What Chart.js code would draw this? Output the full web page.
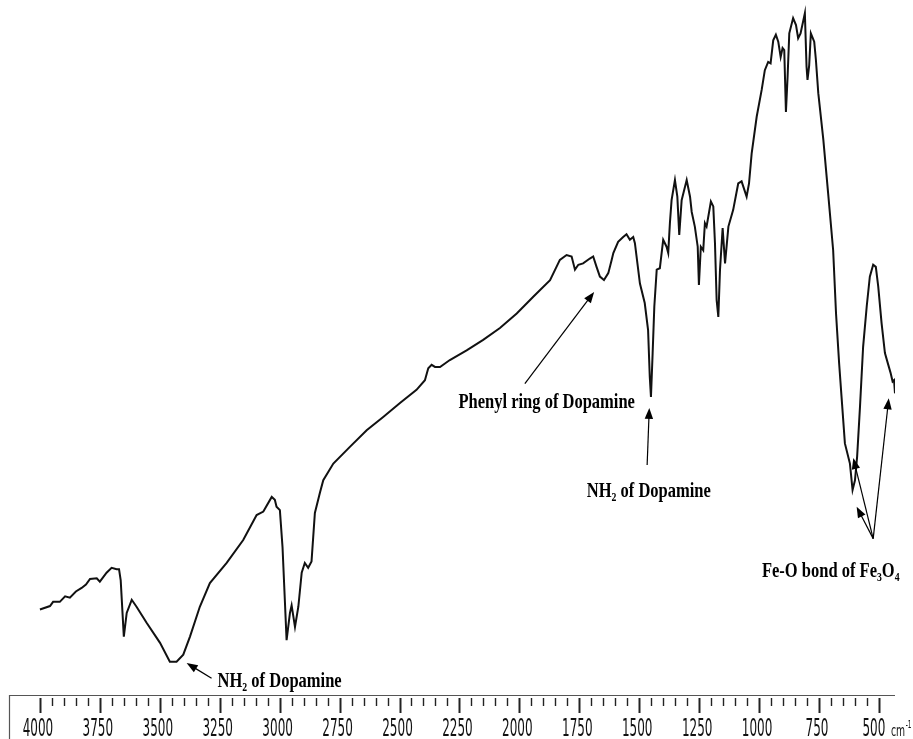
<!DOCTYPE html>
<html>
<head>
<meta charset="utf-8">
<script src="https://cdn.jsdelivr.net/npm/chart.js@4.4.1/dist/chart.umd.min.js"></script>
<style>
html,body{margin:0;padding:0;background:#fff;}
#c{display:block;}
</style>
</head>
<body>
<canvas id="c" width="913" height="739"></canvas>
<script>
// ---- Data (FT-IR spectrum, transmittance in arbitrary %) ----
const wavenumber = [
4000,3958,3945,3917,3895,3875,3850,3826,3808,3791,3763,3750,3722,3701,3680,3670,3663,3650,3638,3617,3597,3555,3499,3458,
3430,3402,3374,3333,3291,3221,3152,3096,3068,3033,3020,3013,2999,2988,2971,2957,2950,2936,2922,2908,
2895,2881,2867,2853,2832,2818,2776,2707,2637,2568,2498,2429,2394,2380,2366,2352,2331,2290,2220,2151,
2081,2011,1942,1872,1831,1803,1782,1768,1754,1734,1706,1692,1678,1664,1647,1629,1615,1608,1588,1567,
1553,1539,1525,1518,1497,1477,1463,1456,1451,1444,1437,1427,1414,1400,1386,1379,1372,1365,1351,1341,
1333,1323,1302,1288,1281,1268,1256,1251,1243,1233,1226,1219,1201,1191,1184,1177,1170,1163,1152,1142,
1128,1108,1087,1073,1052,1042,1031,1010,989,976,962,952,941,930,920,910,902,895,888,881,
874,858,846,837,827,809,802,798,791,784,770,763,753,732,712,691,679,666,656,642,
621,610,600,591,579,566,551,538,524,513,503,489,475,461,451,443,437,433
];
const transmittance = [
12.3,12.8,13.4,13.4,14.2,14.0,14.9,15.4,15.9,16.7,16.8,16.3,17.6,18.3,18.1,18.1,16.5,8.4,11.8,13.7,12.7,10.4,7.5,4.8,
4.8,5.8,8.4,12.7,16.1,19.0,22.3,25.9,26.4,28.5,28.1,27.1,26.6,21.3,7.9,11.8,12.9,9.8,12.7,17.6,
19.0,18.3,19.2,26.2,29.1,30.9,33.3,35.7,38.1,40.0,42.0,43.9,45.3,47.0,47.5,47.2,47.2,48.2,49.6,51.1,
52.8,54.9,57.3,59.7,62.6,63.3,63.1,61.2,61.9,62.1,62.8,63.1,61.6,60.2,59.7,60.7,62.6,63.6,65.2,65.9,
66.3,65.5,65.9,65.0,59.2,56.4,52.5,45.8,42.9,49.2,55.9,61.2,61.4,65.5,64.5,63.6,67.9,71.2,74.1,71.7,
66.2,71.2,74.1,71.7,69.5,67.4,64.5,59.0,64.5,64.0,67.9,67.4,71.0,70.3,65.0,56.8,54.4,61.2,67.2,62.1,
67.4,69.8,73.6,73.9,71.7,73.6,77.9,83.2,87.1,89.9,91.1,90.9,94.2,95.0,94.0,91.8,93.1,92.8,83.9,89.0,
95.2,97.4,96.4,94.5,95.2,98.1,90.4,88.5,90.6,95.2,94.0,91.4,86.6,79.9,72.2,64.0,54.9,47.7,42.9,36.2,
33.3,29.5,30.9,34.3,41.5,50.1,55.9,60.2,61.9,61.6,58.8,53.5,49.2,47.5,46.3,45.1,45.3,43.4
];
const tickLabels = [4000,3750,3500,3250,3000,2750,2500,2250,2000,1750,1500,1250,1000,750,500];
const minorStep = 50;
const axisUnit = 'cm';
const axisUnitSup = '-1';

// Annotations (tips / tails / label anchors in data coordinates: [wavenumber, transmittance])
const annotations = [
  { parts:[['NH'],['2',1],[' of Dopamine']], label:[3000,1.2],
    arrows:[{from:[3284,2.4], to:[3388,4.6]}] },
  { parts:[['Phenyl ring of Dopamine']], label:[1886,41.3],
    arrows:[{from:[1977,44.8], to:[1688,58.0]}] },
  { parts:[['NH'],['2',1],[' of Dopamine']], label:[1460,28.5],
    arrows:[{from:[1467,33.1], to:[1458,41.3]}] },
  { parts:[['Fe-O bond of Fe'],['3',1],['O'],['4',1]], label:[701,17.0],
    arrows:[{from:[524,22.5], to:[607,34.1]},{from:[524,22.5], to:[593,27.1]},{from:[524,22.5], to:[459,42.7]}] }
];

const points = wavenumber.map((w,i)=>({x:w, y:transmittance[i]}));

function drawArrow(ctx, x1, y1, x2, y2){
  const ang = Math.atan2(y2-y1, x2-x1);
  const hl = 11, hw = 4.2;
  ctx.beginPath();
  ctx.moveTo(x1,y1);
  ctx.lineTo(x2 - Math.cos(ang)*hl*0.8, y2 - Math.sin(ang)*hl*0.8);
  ctx.stroke();
  ctx.beginPath();
  ctx.moveTo(x2,y2);
  ctx.lineTo(x2 - Math.cos(ang)*hl + Math.sin(ang)*hw, y2 - Math.sin(ang)*hl - Math.cos(ang)*hw);
  ctx.lineTo(x2 - Math.cos(ang)*hl - Math.sin(ang)*hw, y2 - Math.sin(ang)*hl + Math.cos(ang)*hw);
  ctx.closePath();
  ctx.fill();
}

function drawRich(ctx, parts, cx, baseY, sx){
  const mainFont = 'bold 22px "Liberation Serif", "Times New Roman", serif';
  const subFont = 'bold 13px "Liberation Serif", "Times New Roman", serif';
  let total = 0;
  const widths = parts.map(p=>{ ctx.font = p[1] ? subFont : mainFont; const w = ctx.measureText(p[0]).width; total += w; return w; });
  ctx.save();
  ctx.translate(cx, baseY);
  ctx.scale(sx, 1);
  ctx.textBaseline = 'alphabetic';
  ctx.textAlign = 'left';
  let x = -total/2;
  parts.forEach((p,i)=>{
    ctx.font = p[1] ? subFont : mainFont;
    ctx.fillText(p[0], x, p[1] ? 4 : 0);
    x += widths[i];
  });
  ctx.restore();
}

const irAxisPlugin = {
  id:'irAxis',
  afterDraw(chart){
    const ctx = chart.ctx, xs = chart.scales.x, ys = chart.scales.y, a = chart.chartArea;
    ctx.save();
    // axis frame
    ctx.strokeStyle = '#555';
    ctx.lineWidth = 1.2;
    ctx.beginPath();
    ctx.moveTo(a.left, a.bottom + 0.5);
    ctx.lineTo(a.right, a.bottom + 0.5);
    ctx.moveTo(a.left + 0.5, a.bottom);
    ctx.lineTo(a.left + 0.5, chart.height);
    ctx.stroke();
    // ticks
    ctx.strokeStyle = '#222';
    const first = tickLabels[tickLabels.length-1], last = tickLabels[0];
    for(let v = first; v <= last; v += minorStep){
      const px = Math.round(xs.getPixelForValue(v)) + 0.5;
      const major = tickLabels.includes(v);
      ctx.lineWidth = major ? 2 : 1.4;
      ctx.beginPath();
      ctx.moveTo(px, a.bottom + 3);
      ctx.lineTo(px, a.bottom + (major ? 18 : 11));
      ctx.stroke();
    }
    // tick labels
    ctx.fillStyle = '#111';
    ctx.textBaseline = 'alphabetic';
    ctx.textAlign = 'center';
    tickLabels.forEach((v,i)=>{
      const px = xs.getPixelForValue(v) + (i === tickLabels.length-1 ? -5 : -2);
      ctx.save();
      ctx.translate(px, a.bottom + 41);
      ctx.scale(0.5, 1);
      ctx.font = '24px "DejaVu Sans", Verdana, sans-serif';
      ctx.fillText(String(v), 0, 0);
      ctx.restore();
    });
    // unit
    ctx.save();
    ctx.translate(a.right - 4, a.bottom + 41);
    ctx.scale(0.58, 1);
    ctx.textAlign = 'left';
    ctx.font = '16px "DejaVu Sans", Verdana, sans-serif';
    ctx.fillText(axisUnit, 0, 0);
    const uw = ctx.measureText(axisUnit).width;
    ctx.font = '10px "DejaVu Sans", Verdana, sans-serif';
    ctx.fillText(axisUnitSup, uw + 1, -8);
    ctx.restore();

    // annotations
    ctx.fillStyle = '#000';
    ctx.strokeStyle = '#000';
    ctx.lineWidth = 1.2;
    annotations.forEach(an=>{
      an.arrows.forEach(ar=>{
        drawArrow(ctx, xs.getPixelForValue(ar.from[0]), ys.getPixelForValue(ar.from[1]),
                       xs.getPixelForValue(ar.to[0]), ys.getPixelForValue(ar.to[1]));
      });
      drawRich(ctx, an.parts, xs.getPixelForValue(an.label[0]), ys.getPixelForValue(an.label[1]), 0.75);
    });
    ctx.restore();
  }
};

new Chart(document.getElementById('c'), {
  type:'line',
  data:{ datasets:[{ data:points, borderColor:'#111', borderWidth:2, pointRadius:0, tension:0, fill:false }] },
  options:{
    responsive:false,
    animation:false,
    parsing:true,
    layout:{ padding:{ left:9, right:18, top:0, bottom:44 } },
    plugins:{ legend:{display:false}, tooltip:{enabled:false} },
    scales:{
      x:{ type:'linear', reverse:true, min:433, max:4129, display:false },
      y:{ type:'linear', min:0, max:100, display:false }
    }
  },
  plugins:[irAxisPlugin]
});
</script>
</body>
</html>
